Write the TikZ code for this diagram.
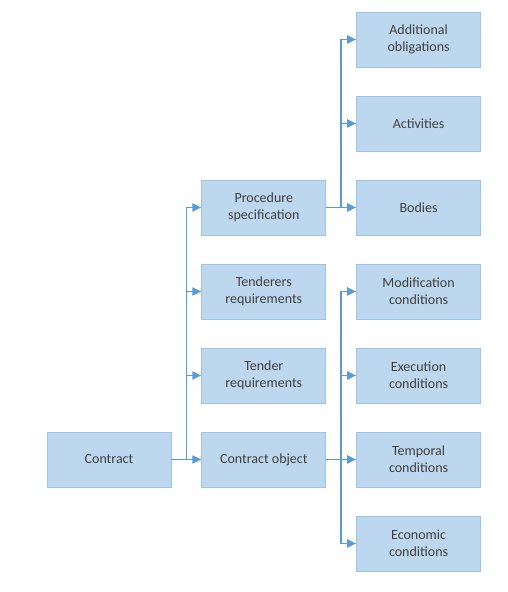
\documentclass[tikz,border=0pt]{standalone}
\usepackage{fontspec}
\setmainfont{Carlito}
\usetikzlibrary{positioning,arrows.meta}
\definecolor{boxfill}{HTML}{BDD7EE}
\definecolor{boxline}{HTML}{9DC3E6}
\definecolor{linkblue}{HTML}{5B9BD5}
\definecolor{textgray}{HTML}{404040}

\begin{document}
\begin{tikzpicture}[
  node distance = 28.2pt and 30pt,
  every node/.style = {draw = boxline, fill = boxfill, line width = 0.8pt,
                       minimum width = 124pt, minimum height = 55pt,
                       align = center, text = textgray,
                       font = \fontsize{14}{17}\selectfont},
  link/.style = {draw = linkblue, line width = 1.8pt,
                 -{Triangle[length = 9pt, width = 8pt]}},
  ]
  \useasboundingbox (0,0) rectangle (508pt,592pt);
  \node (contract) at (109pt,132.5pt) {Contract};
  \node (object) [right = of contract] {Contract object};
  \node (tender) [above = of object] {Tender\\requirements};
  \node (tenderers) [above = of tender] {Tenderers\\requirements};
  \node (procedure) [above = of tenderers] {Procedure\\specification};
  \node (bodies) [right = of procedure] {Bodies};
  \node (activities) [above = of bodies] {Activities};
  \node (obligations) [above = of activities] {Additional\\obligations};
  \node (temporal) [right = of object] {Temporal\\conditions};
  \node (economic) [below = of temporal] {Economic\\conditions};
  \node (execution) [above = of temporal] {Execution\\conditions};
  \node (modification) [above = of execution] {Modification\\conditions};
  % contract branches
  \foreach \n in {procedure, tenderers, tender, object}
    \draw[link] (contract.east) -- ++(15pt,0) |- (\n.west);
  % procedure branches
  \foreach \n in {obligations, activities, bodies}
    \draw[link] (procedure.east) -- ++(15pt,0) |- (\n.west);
  % object branches
  \foreach \n in {modification, execution, temporal, economic}
    \draw[link] (object.east) -- ++(15pt,0) |- (\n.west);
\end{tikzpicture}
\end{document}
